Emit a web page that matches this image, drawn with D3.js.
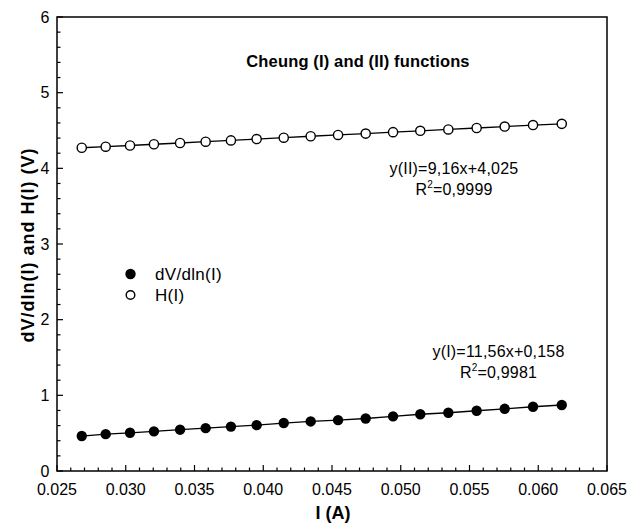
<!DOCTYPE html>
<html>
<head>
<meta charset="utf-8">
<script src="https://cdn.jsdelivr.net/npm/d3@7"></script>
<style>
html,body{margin:0;padding:0;background:#fff;}
svg{display:block;font-family:"Liberation Sans",Arial,sans-serif;}
</style>
</head>
<body>
<svg id="chart" width="638" height="526"></svg>
<script>
const currentA = [0.0268,0.02854,0.03031,0.03205,0.03395,0.03581,0.03765,0.03952,0.04149,0.04345,0.04544,0.04745,0.04944,0.05142,0.05346,0.05552,0.05756,0.05962,0.06171];
const dVdlnI = [0.462,0.487,0.505,0.524,0.546,0.566,0.587,0.606,0.634,0.655,0.672,0.694,0.722,0.750,0.770,0.796,0.822,0.849,0.872];
const HI = [4.272,4.286,4.302,4.318,4.335,4.352,4.369,4.387,4.405,4.424,4.441,4.459,4.478,4.496,4.514,4.533,4.552,4.572,4.588];
const xTicks = [0.025,0.030,0.035,0.040,0.045,0.050,0.055,0.060,0.065];
const yTicks = [0,1,2,3,4,5,6];
const seriesNames = ["dV/dln(I)","H(I)"];
const titleText = "Cheung (I) and (II) functions";
const fitII = ["y(II)=9,16x+4,025","0,9999"];
const fitI = ["y(I)=11,56x+0,158","0,9981"];

const svg = d3.select("#chart");
const L=57, R=607, T=17, B=471;
const x = d3.scaleLinear().domain([0.025,0.065]).range([L,R]);
const y = d3.scaleLinear().domain([0,6]).range([B,T]);

// frame
svg.append("rect").attr("x",L).attr("y",T).attr("width",R-L).attr("height",B-T)
  .attr("fill","none").attr("stroke","#000").attr("stroke-width",1.5);

// x axis ticks (inward)
const xMinor = d3.range(0,41).map(i=>0.025+i*0.001);
svg.append("g").selectAll("line").data(xMinor).join("line")
  .attr("x1",d=>x(d)).attr("x2",d=>x(d)).attr("y1",B)
  .attr("y2",(d,i)=> i%5===0 ? B-6 : B-3.5)
  .attr("stroke","#000").attr("stroke-width",1.2);
svg.append("g").selectAll("text").data(xTicks).join("text")
  .attr("x",d=>x(d)).attr("y",494.5).attr("text-anchor","middle")
  .attr("font-size",16).text(d=>d3.format(".3f")(d));

// y axis ticks (inward)
const yMinor = d3.range(0,31).map(i=>i*0.2);
svg.append("g").selectAll("line").data(yMinor).join("line")
  .attr("y1",d=>y(d)).attr("y2",d=>y(d)).attr("x1",L)
  .attr("x2",(d,i)=> i%5===0 ? L+6 : L+3.5)
  .attr("stroke","#000").attr("stroke-width",1.2);
svg.append("g").selectAll("text").data(yTicks).join("text")
  .attr("x",49.5).attr("y",d=>y(d)+5.8).attr("text-anchor","end")
  .attr("font-size",16).text(d=>d);

// axis titles
svg.append("text").attr("x",(L+R)/2+1).attr("y",519).attr("text-anchor","middle")
  .attr("font-size",18).attr("font-weight","bold").text("I (A)");
svg.append("text").attr("transform","translate(33.5,245) rotate(-90)")
  .attr("text-anchor","middle").attr("font-size",18).attr("font-weight","bold")
  .attr("letter-spacing",1).text("dV/dln(I) and H(I) (V)");

// lines
const line = d3.line().x(d=>x(d[0])).y(d=>y(d[1]));
const s1 = currentA.map((c,i)=>[c,dVdlnI[i]]);
const s2 = currentA.map((c,i)=>[c,HI[i]]);
svg.append("path").attr("d",line(s1)).attr("fill","none").attr("stroke","#000").attr("stroke-width",1.3);
svg.append("path").attr("d",line(s2)).attr("fill","none").attr("stroke","#000").attr("stroke-width",1.3);

// markers
svg.append("g").selectAll("circle").data(s1).join("circle")
  .attr("cx",d=>x(d[0])).attr("cy",d=>y(d[1])).attr("r",5.2).attr("fill","#000");
svg.append("g").selectAll("circle").data(s2).join("circle")
  .attr("cx",d=>x(d[0])).attr("cy",d=>y(d[1])).attr("r",4.6)
  .attr("fill","#fff").attr("stroke","#000").attr("stroke-width",1.4);

// legend
svg.append("circle").attr("cx",130.5).attr("cy",274).attr("r",5.2).attr("fill","#000");
svg.append("circle").attr("cx",130.5).attr("cy",295).attr("r",4.3).attr("fill","#fff").attr("stroke","#000").attr("stroke-width",1.4);
svg.append("text").attr("x",155).attr("y",279.5).attr("font-size",17).attr("letter-spacing",0.3).text(seriesNames[0]);
svg.append("text").attr("x",155).attr("y",301).attr("font-size",17).attr("letter-spacing",0.3).text(seriesNames[1]);

// title
svg.append("text").attr("x",358).attr("y",67).attr("text-anchor","middle")
  .attr("font-size",16.5).attr("font-weight","bold").attr("letter-spacing",0.15).text(titleText);

// fit annotations
function fitLabel(cx, y1, y2, lines){
  svg.append("text").attr("x",cx).attr("y",y1).attr("text-anchor","middle")
    .attr("font-size",16).attr("letter-spacing",0.2).text(lines[0]);
  const t = svg.append("text").attr("x",cx).attr("y",y2).attr("text-anchor","middle")
    .attr("font-size",16).attr("letter-spacing",0.2);
  t.append("tspan").text("R");
  t.append("tspan").attr("dy",-7).attr("font-size",10).text("2");
  t.append("tspan").attr("dy",7).text("="+lines[1]);
}
fitLabel(454,174,194.5,fitII);
fitLabel(498.5,357,377.5,fitI);
</script>
</body>
</html>
